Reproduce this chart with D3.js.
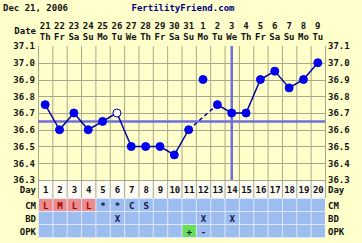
<!DOCTYPE html>
<html>
<head>
<meta charset="utf-8">
<script src="https://cdn.jsdelivr.net/npm/d3@7"></script>
<style>
  html, body { margin: 0; padding: 0; background: #ffffcc; }
  svg text { font-family: "DejaVu Sans Mono", monospace; font-weight: bold; font-size: 9px; fill: #111; }
</style>
</head>
<body>
<div id="chart"></div>
<script>
// --- chart data ---
const days = d3.range(1, 21);
const dates = ["21","22","23","24","25","26","27","28","29","30","31","1","2","3","4","5","6","7","8","9"];
const weekdays = ["Th","Fr","Sa","Su","Mo","Tu","We","Th","Fr","Sa","Su","Mo","Tu","We","Th","Fr","Sa","Su","Mo","Tu"];
const temps = [36.75, 36.6, 36.7, 36.6, 36.65, 36.7, 36.5, 36.5, 36.5, 36.45,
               36.6, 36.9, 36.75, 36.7, 36.7, 36.9, 36.95, 36.85, 36.9, 37.0];
const openDays = [6];        // hollow marker
const discardDays = [12];    // not joined to the line
const tempTicks = [36.3, 36.4, 36.5, 36.6, 36.7, 36.8, 36.9, 37.0, 37.1];
const coverline = 36.65;
const ovulationDay = 14;
const cm = ["L","M","L","L","*","*","C","S","","","","","","","","","","","",""];
const bd = ["","","","","","X","","","","","","X","","X","","","","","",""];
const opk = ["","","","","","","","","","","+","-","","","","","","","",""];

const width = 362, height = 243;
const svg = d3.select('#chart').append('svg')
  .attr('width', width).attr('height', height);

const x = d3.scaleBand().domain(days).range([38, 325]);
const y = d3.scaleLinear().domain([36.3, 37.1]).range([180, 46]);
const cx = d => x(d) + x.bandwidth() / 2;

// header
svg.append('text').attr('x', 3).attr('y', 11).text('Dec 21, 2006');
svg.append('text').attr('x', 183).attr('y', 11).attr('text-anchor', 'middle')
  .style('fill', '#000080').text('FertilityFriend.com');

svg.append('text').attr('x', 36).attr('y', 34).attr('text-anchor', 'end').text('Date');
svg.append('g').selectAll('text').data(days).join('text')
  .attr('x', d => cx(d)).attr('y', 29).attr('text-anchor', 'middle')
  .text((d, i) => dates[i]);
svg.append('g').selectAll('text').data(days).join('text')
  .attr('x', d => cx(d)).attr('y', 40).attr('text-anchor', 'middle')
  .text((d, i) => weekdays[i]);

// day row background
svg.append('rect').attr('x', 38).attr('y', 180).attr('width', 287).attr('height', 18)
  .attr('fill', '#fbfbf4');

// grid
const grid = svg.append('g').attr('stroke', '#a8a888').attr('stroke-width', 1);
grid.selectAll('line.v').data(days.concat([21])).join('line')
  .attr('x1', d => (d === 21 ? 325 : x(d)) + 0.5).attr('x2', d => (d === 21 ? 325 : x(d)) + 0.5)
  .attr('y1', 46).attr('y2', 198);
grid.selectAll('line.h').data(tempTicks.slice(0, -1)).join('line')
  .attr('x1', 38).attr('x2', 325)
  .attr('y1', d => Math.round(y(d)) + 0.5).attr('y2', d => Math.round(y(d)) + 0.5);

// temperature labels via axes
const yl = svg.append('g').attr('transform', 'translate(37,0)')
  .call(d3.axisLeft(y).tickValues(tempTicks).tickSize(0).tickPadding(2).tickFormat(d3.format('.1f')));
const yr = svg.append('g').attr('transform', 'translate(326,0)')
  .call(d3.axisRight(y).tickValues(tempTicks).tickSize(0).tickPadding(2).tickFormat(d3.format('.1f')));
[yl, yr].forEach(g => {
  g.select('.domain').remove();
  g.selectAll('text').attr('font-size', null).attr('font-family', null).style('fill', '#111');
});

// coverline and ovulation line
svg.append('line').attr('x1', 38).attr('x2', 325)
  .attr('y1', y(coverline)).attr('y2', y(coverline))
  .attr('stroke', '#6f6fdc').attr('stroke-width', 2.5);
svg.append('line').attr('x1', cx(ovulationDay)).attr('x2', cx(ovulationDay))
  .attr('y1', 46).attr('y2', 180)
  .attr('stroke', '#6f6fdc').attr('stroke-width', 2.5);

// temperature line
const pts = days.map((d, i) => ({ day: d, t: temps[i] }));
const kept = pts.filter(p => !discardDays.includes(p.day));
const line = d3.line().x(p => cx(p.day)).y(p => y(p.t));
const segs = [];
for (let i = 1; i < kept.length; i++) {
  segs.push({ a: kept[i - 1], b: kept[i], gap: kept[i].day - kept[i - 1].day > 1 });
}
svg.append('g').selectAll('path').data(segs).join('path')
  .attr('d', s => line([s.a, s.b]))
  .attr('fill', 'none').attr('stroke', '#000099').attr('stroke-width', 1.5)
  .attr('stroke-dasharray', s => s.gap ? '4,3' : null);

svg.append('g').selectAll('circle').data(pts).join('circle')
  .attr('cx', p => cx(p.day)).attr('cy', p => y(p.t)).attr('r', 4)
  .attr('fill', p => openDays.includes(p.day) ? '#ffffff' : '#0000ee')
  .attr('stroke', p => openDays.includes(p.day) ? '#000099' : '#0000ee')
  .attr('stroke-width', 1);

// day row labels
svg.append('text').attr('x', 36).attr('y', 193).attr('text-anchor', 'end').text('Day');
svg.append('text').attr('x', 328).attr('y', 193).text('Day');
svg.append('g').selectAll('text').data(days).join('text')
  .attr('x', d => cx(d) + 0.5).attr('y', 193).attr('text-anchor', 'middle').text(d => d);

// observation rows
const rows = [
  { name: 'CM', vals: cm, y: 199 },
  { name: 'BD', vals: bd, y: 212 },
  { name: 'OPK', vals: opk, y: 225 }
];
const rowH = 12;
svg.append('rect').attr('x', 38).attr('y', 198).attr('width', 287).attr('height', 40)
  .attr('fill', '#dde8fa');
rows.forEach(r => {
  const g = svg.append('g');
  g.selectAll('rect').data(days).join('rect')
    .attr('x', d => x(d) + 1).attr('y', r.y).attr('width', x.bandwidth() - 1).attr('height', rowH)
    .attr('fill', (d, i) => {
      const v = r.vals[i];
      if (r.name === 'CM' && (v === 'L' || v === 'M')) return '#ec8c8c';
      if (v === '+') return '#66dd55';
      return '#9dbdf0';
    });
  g.selectAll('text').data(days).join('text')
    .attr('x', d => cx(d) + 0.5).attr('y', r.y + 9.5).attr('text-anchor', 'middle')
    .style('fill', (d, i) => r.vals[i] === 'L' || r.vals[i] === 'M' ? '#990000' : '#111144')
    .text((d, i) => r.vals[i]);
  svg.append('text').attr('x', 36).attr('y', r.y + 9.5).attr('text-anchor', 'end').text(r.name);
  svg.append('text').attr('x', 328).attr('y', r.y + 9.5).text(r.name);
});
</script>
</body>
</html>
